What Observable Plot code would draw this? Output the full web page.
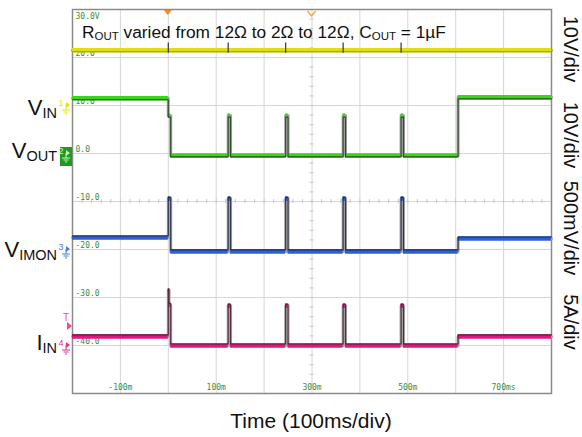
<!DOCTYPE html>
<html><head><meta charset="utf-8">
<script src="https://cdn.jsdelivr.net/npm/d3@7"></script>
<script src="https://cdn.jsdelivr.net/npm/@observablehq/plot@0.6"></script>
<style>body{margin:0;background:#fff}</style>
</head><body><div id="chart"></div>
<script>
// ---- data (scope screen units: 10 units per division, time in ms) ----
const timeDomain = [-200, 800];
const levelDomain = [-50, 30];
const gridTimes = [-100, 0, 100, 200, 300, 400, 500, 600, 700];
const gridLevels = [20, 10, 0, -10, -20, -30, -40];
const gridLevelLabels = ["20.0", "10.0", "0.0", "-10.0", "-20.0", "-30.0", "-40.0"];
const topLevelLabel = "30.0V";
const timeTicks = [-100, 100, 300, 500, 700];
const timeTickLabels = ["-100m", "100m", "300m", "500m", "700ms"];

const vinTimes = [-200];
const vinLevels = [21.5];
const vinMarkTimes = [0, 125, 245, 365, 486];

const voutTimes = [-200, 0, 5, 125, 130, 245, 250, 365, 370, 486, 491, 605];
const voutLevels = [11.5, 7.9, -0.4, 7.9, -0.4, 7.9, -0.4, 7.9, -0.4, 7.9, -0.4, 11.7];

const vimonTimes = [-200, 0, 5, 125, 130, 245, 250, 365, 370, 486, 491, 605];
const vimonLevels = [-17.5, -9.4, -20.4, -9.4, -20.4, -9.4, -20.4, -9.4, -20.4, -9.4, -20.4, -17.7];

const iinTimes = [-200, 0, 1.5, 5, 125, 130, 245, 250, 365, 370, 486, 491, 605];
const iinLevels = [-38.1, -28.5, -31.5, -40, -31.7, -40, -31.7, -40, -31.7, -40, -31.7, -40, -38.1];

const channelNames = ["V_IN", "V_OUT", "V_IMON", "I_IN"];
const channelGrounds = [10, 0, -20, -40];
const scaleLabels = ["10V/div", "10V/div", "500mV/div", "5A/div"];

// ---- helpers ----
const endTime = timeDomain[1];
function segments(T, V) { return T.map((t, i) => ({t0: t, t1: i + 1 < T.length ? T[i + 1] : endTime, v: V[i]})); }
function points(T, V) { const p = T.map((t, i) => ({t, v: V[i]})); p.push({t: endTime, v: V[V.length - 1]}); return p; }

const channels = [
  {T: vinTimes, V: vinLevels, color: "#dede10", edge: "#8f8f00", dy: 1.5},
  {T: voutTimes, V: voutLevels, color: "#3cd41e", edge: "#1d3d14", dy: 1.5},
  {T: vimonTimes, V: vimonLevels, color: "#2d5fd8", edge: "#1a2340", dy: -1.5},
  {T: iinTimes, V: iinLevels, color: "#e0177f", edge: "#4a1830", dy: -1.5}
];

const minorLevels = d3.range(-50, 30.01, 2);
const minorTimes = d3.range(-200, 800.01, 20);

const traceMarks = [];
for (const c of channels) {
  traceMarks.push(Plot.line(points(c.T, c.V), {x: "t", y: "v", curve: "step-after", stroke: "#a0a0a0", strokeWidth: 3}));
  traceMarks.push(Plot.ruleY(segments(c.T, c.V), {y: "v", x1: "t0", x2: "t1", stroke: c.color, strokeWidth: 4.5}));
  traceMarks.push(Plot.line(points(c.T, c.V), {x: "t", y: "v", curve: "step-after", stroke: c.edge, strokeWidth: 1.1, strokeOpacity: 0.85, dy: c.dy}));
}

const green = "#3c8c3c";
const plot = Plot.plot({
  width: 582, height: 437,
  marginLeft: 72, marginRight: 31, marginTop: 9, marginBottom: 44,
  x: {domain: timeDomain, axis: null},
  y: {domain: levelDomain, axis: null},
  style: {fontFamily: "Liberation Sans, Arial, sans-serif", background: "#fff"},
  marks: [
    Plot.ruleX(gridTimes, {stroke: "#d6d6d6", strokeWidth: 1}),
    Plot.ruleY(gridLevels, {stroke: "#d6d6d6", strokeWidth: 1}),
    Plot.ruleY(minorLevels, {y: d => d, x1: 296, x2: 304, stroke: "#c4c4c4"}),
    Plot.ruleX(minorTimes, {x: d => d, y1: -10.4, y2: -9.6, stroke: "#c4c4c4"}),
    Plot.frame({stroke: "#8a8a8a", strokeWidth: 1.5}),
    Plot.text(gridLevels, {x: timeDomain[0], y: d => d, text: (d, i) => gridLevelLabels[i], dx: 3, dy: -4, textAnchor: "start", fill: green, fontSize: 8, fontFamily: "DejaVu Sans Mono, monospace"}),
    Plot.text([topLevelLabel], {x: timeDomain[0], y: levelDomain[1], text: d => d, dx: 3, dy: 7, textAnchor: "start", fill: green, fontSize: 8, fontFamily: "DejaVu Sans Mono, monospace"}),
    Plot.text(timeTicks, {x: d => d, y: levelDomain[0], text: (d, i) => timeTickLabels[i], dy: -6, fill: green, fontSize: 8, fontFamily: "DejaVu Sans Mono, monospace"}),
    ...traceMarks,
    Plot.ruleX(vinMarkTimes, {x: d => d, y1: 20.9, y2: 23.0, stroke: "#333", strokeWidth: 1.2})
  ]
});
document.getElementById("chart").appendChild(plot);

// ---- annotations ----
const xs = plot.scale("x"), ys = plot.scale("y");
const svg = d3.select(plot);
const F = "Liberation Sans, Arial, sans-serif";

function richText(x, y, parts, size, anchor) {
  const t = svg.append("text").attr("x", x).attr("y", y).attr("font-family", F)
    .attr("font-size", size).attr("fill", "#111").attr("text-anchor", anchor || "start")
    .style("white-space", "pre");
  let shift = 0;
  for (const [s, sub] of parts) {
    const want = sub ? sub.dy : 0;
    t.append("tspan").text(s).attr("dy", want - shift).attr("font-size", sub ? sub.size : size);
    shift = want;
  }
  return t;
}

// title
const subT = {size: 11.5, dy: 1.5};
richText(82, 38, [["R"], ["OUT", subT], [" varied from 12Ω to 2Ω to 12Ω, C"], ["OUT", subT], [" = 1µF"]], 17.3);

// channel names
const subL = {size: 14.5, dy: 3};
const nameBase = [115, 158, 257, 350];
channelNames.forEach((n, i) => {
  const [a, b] = n.split("_");
  richText(57, nameBase[i], [[a], [b, subL]], 22, "end");
});

// channel markers
const markerColors = ["#e6e600", "#1e8a1e", "#4a7ae0", "#e0309a"];
channelGrounds.forEach((g, i) => {
  const y = ys.apply(g);
  const c = markerColors[i];
  const grp = svg.append("g");
  if (i === 1) {
    grp.append("rect").attr("x", 60).attr("y", y - 6).attr("width", 12).attr("height", 19).attr("fill", "#1e9a1e");
  }
  const fg = i === 1 ? "#bfffbf" : c;
  grp.append("text").attr("x", 61).attr("y", y + 1).attr("font-size", 9).attr("font-family", F).attr("fill", fg).text(String(i + 1));
  grp.append("path").attr("d", `M66,${y - 3}L70,${y}L66,${y + 3}Z`).attr("fill", fg);
  grp.append("path").attr("d", `M66,${y}V${y + 5}M62,${y + 5}H70M63.5,${y + 7}H68.5M65,${y + 9}H67`).attr("stroke", fg).attr("stroke-width", 1).attr("fill", "none");
});

// trigger markers
const x0 = xs.apply(0), xc = xs.apply(300), yt = ys.apply(levelDomain[1]);
svg.append("path").attr("d", `M${x0 - 4},${yt + 1}L${x0 + 4},${yt + 1}L${x0},${yt + 6}Z`).attr("fill", "#f08c1e");
svg.append("path").attr("d", `M${xc - 4},${yt + 2}L${xc},${yt + 7}L${xc + 4},${yt + 2}`).attr("stroke", "#f0a040").attr("stroke-width", 1.3).attr("fill", "none");
svg.append("text").attr("x", 66).attr("y", 321).attr("font-size", 10).attr("font-family", F).attr("fill", "#ff3fa0").text("T");
svg.append("path").attr("d", `M67,322L72,326L67,330Z`).attr("fill", "#ff3fa0");

// right scale labels (rotated)
const rightY = [49, 135, 228, 322];
scaleLabels.forEach((s, i) => {
  svg.append("text").attr("transform", `translate(564,${rightY[i]}) rotate(90)`)
    .attr("text-anchor", "middle").attr("font-family", F).attr("font-size", 20).attr("fill", "#111").text(s);
});

// x title
svg.append("text").attr("x", 311).attr("y", 428).attr("text-anchor", "middle").attr("font-family", F).attr("font-size", 21).attr("fill", "#111").text("Time (100ms/div)");
</script>
</body></html>
